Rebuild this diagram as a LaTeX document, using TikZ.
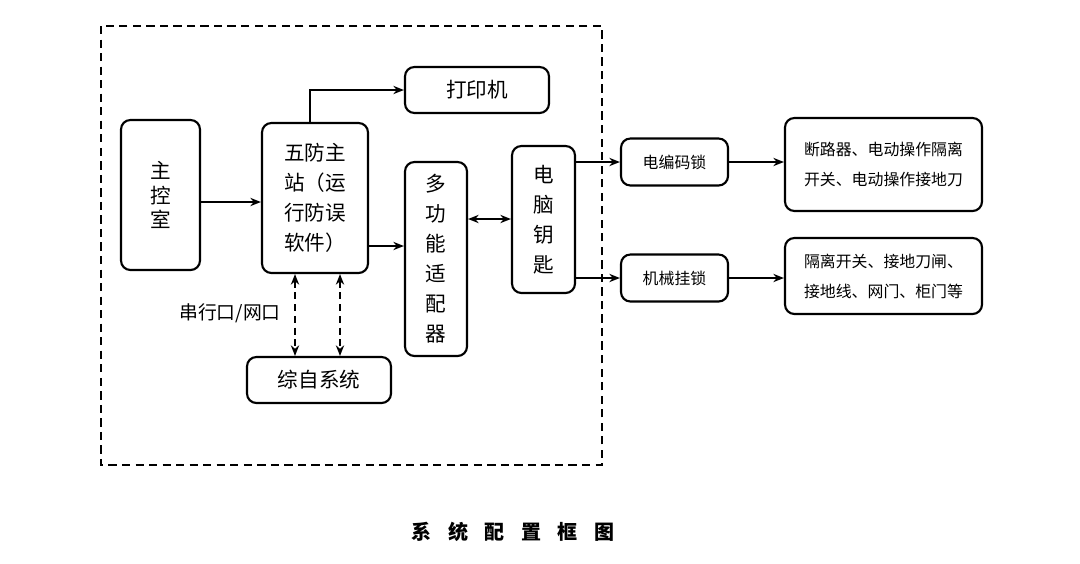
\documentclass[tikz,border=0pt]{standalone}
\usepackage{fontspec}
\setmainfont{Noto Sans CJK SC}
\usetikzlibrary{arrows.meta}
\begin{document}
\begin{tikzpicture}[x=0.85pt,y=-0.85pt,
  bx/.style n args={2}{draw,line width=1.8pt,rounded corners=8pt,inner sep=0pt,align=center,
     minimum width={#1*0.85pt},minimum height={#2*0.85pt}},
  big/.style={font=\fontsize{17.5}{25.5}\selectfont},
  sml/.style={font=\fontsize{13.5}{25.5}\selectfont},
  conn/.style={line width=1.6pt,-{Stealth[length=9pt,width=7pt]}},
  dconn/.style={line width=1.6pt,dash pattern=on 6pt off 4pt,{Stealth[length=9pt,width=7pt]}-{Stealth[length=9pt,width=7pt]}},
  frame/.style={line width=2pt,dash pattern=on 7pt off 4.5pt}]
\useasboundingbox (0,0) rectangle (1080,563);
\draw[frame] (101,26) rectangle (602,465);
\node[bx={79}{150},font=\fontsize{17.5}{21}\selectfont] (ctrl) at (160.5,195) {主\\控\\室};
\node[bx={106}{150},big] (wf) at (315,198) {五防主\\站（运\\行防误\\软件）};
\node[bx={144}{46},big] (prn) at (477,90) {打印机};
\node[bx={62}{194},big] (mfa) at (436,259) {多\\功\\能\\适\\配\\器};
\node[bx={63}{147},big] (key) at (543.5,219.5) {电\\脑\\钥\\匙};
\node[bx={144}{46},big] (zz) at (319,380) {综自系统};
\node[bx={107}{47},sml] (enc) at (674.5,162) {电编码锁};
\node[bx={107}{47},sml] (mech) at (674.5,278) {机械挂锁};
\node[bx={197}{93},sml] (r1) at (883.5,164.5) {断路器、电动操作隔离\\开关、电动操作接地刀};
\node[bx={197}{76},sml] (r2) at (883.5,276) {隔离开关、接地刀闸、\\接地线、网门、柜门等};
\node[font=\fontsize{16}{18}\selectfont] (lbl) at (230,313) {串行口/网口};
\node[font=\fontsize{17}{20}\selectfont\bfseries] (title) at (513,532) {系\hspace{14pt}统\hspace{14pt}配\hspace{14pt}置\hspace{14pt}框\hspace{14pt}图};
\draw[conn] (ctrl.east |- 0,202) -- (wf.west |- 0,202);
\draw[conn] (wf.north -| 310,0) |- (prn.west);
\draw[conn] (wf.east |- 0,246) -- (mfa.west |- 0,246);
\draw[line width=1.6pt,{Stealth[length=9pt,width=7pt]}-{Stealth[length=9pt,width=7pt]}] (mfa.east |- 0,219) -- (key.west |- 0,219);
\draw[conn] (key.east |- enc.west) -- (enc.west);
\draw[conn] (key.east |- mech.west) -- (mech.west);
\draw[conn] (enc.east) -- (r1.west |- enc.east);
\draw[conn] (mech.east) -- (r2.west |- mech.east);
\draw[dconn] (wf.south -| 295,0) -- (zz.north -| 295,0);
\draw[dconn] (wf.south -| 340,0) -- (zz.north -| 340,0);
\end{tikzpicture}
\end{document}
